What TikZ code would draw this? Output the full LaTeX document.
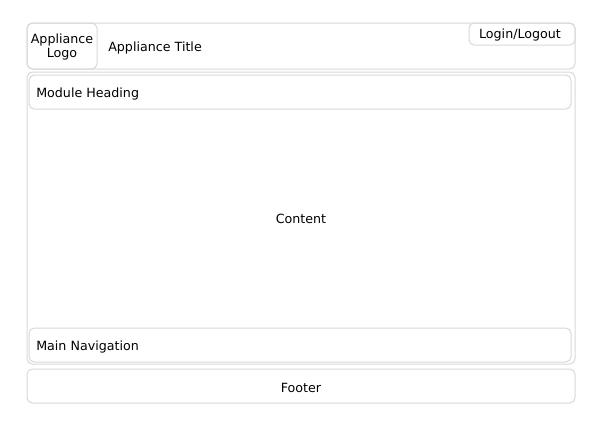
\documentclass[tikz,border=0pt]{standalone}
\usepackage{fontspec}
\setmainfont{DejaVu Sans}
\begin{document}
\begin{tikzpicture}[x=0.75pt,y=-0.75pt,
  box/.style={draw=boxgray,line width=0.75pt,rounded corners=4pt},
  lbl/.style={font=\fontsize{9.5pt}{11pt}\selectfont,text=black,inner sep=0pt}]
\definecolor{boxgray}{HTML}{D9D9D9}
\useasboundingbox[fill=white] (0,0) rectangle (600,425);
% header
\draw[box] (27,23) rectangle (575,69);
\draw[box] (27,23) rectangle (97,69);
\node[lbl,align=center] (logo) at (62,47) {Appliance\\Logo};
\node[lbl,anchor=west] (title) at (108,48) {Appliance Title};
\draw[box] (469,23) rectangle (575,45);
\node[lbl] (login) at (520,35) {Login/Logout};
% main
\draw[box] (27,72) rectangle (575,364);
\draw[box] (29,75) rectangle (571,109);
\node[lbl,anchor=west] (heading) at (36,94) {Module Heading};
\node[lbl] (content) at (301,219) {Content};
\draw[box] (29,328) rectangle (571,362);
\node[lbl,anchor=west] (nav) at (36,347) {Main Navigation};
% footer
\draw[box] (27,369) rectangle (575,403);
\node[lbl] (footer) at (301,388) {Footer};
\end{tikzpicture}
\end{document}
